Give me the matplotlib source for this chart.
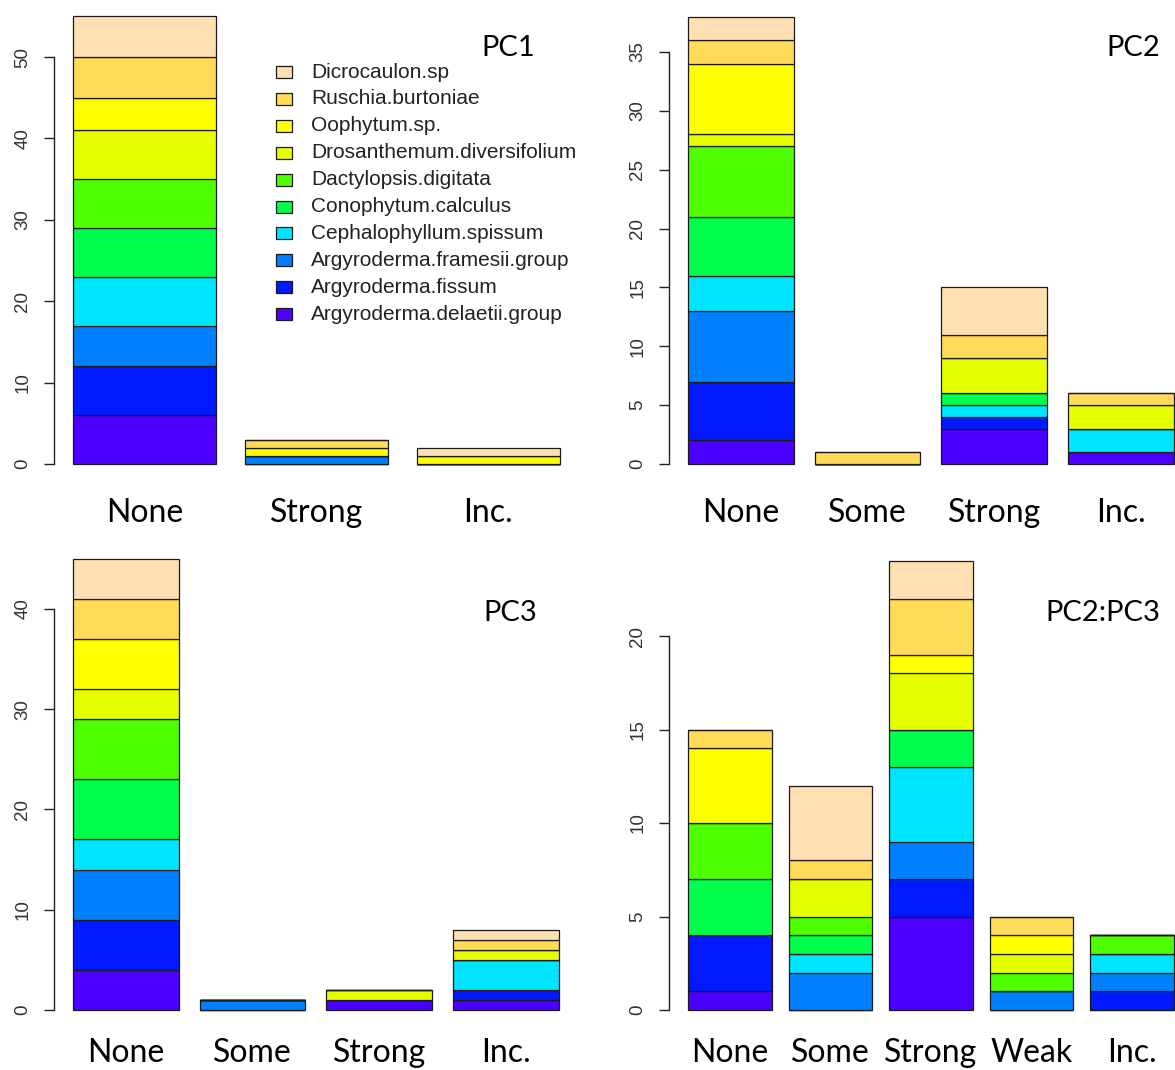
import matplotlib
matplotlib.use("Agg")
import matplotlib.pyplot as plt
from matplotlib.patches import Rectangle
import numpy as np

# ---------------- data ----------------
species = ["Argyroderma.delaetii.group", "Argyroderma.fissum", "Argyroderma.framesii.group",
           "Cephalophyllum.spissum", "Conophytum.calculus", "Dactylopsis.digitata",
           "Drosanthemum.diversifolium", "Oophytum.sp.", "Ruschia.burtoniae", "Dicrocaulon.sp"]
colors = ["#4C00FF", "#0019FF", "#0080FF", "#00E5FF", "#00FF4D",
          "#4DFF00", "#E6FF00", "#FFFF00", "#FFDB58", "#FFE0B3"]

pc1_groups = ["None", "Strong", "Inc."]
pc1_counts = [[6, 0, 0], [6, 0, 0], [5, 1, 0], [6, 0, 0], [6, 0, 0],
              [6, 0, 0], [6, 0, 0], [4, 1, 1], [5, 1, 0], [5, 0, 1]]
pc1_yticks = [0, 10, 20, 30, 40, 50]

pc2_groups = ["None", "Some", "Strong", "Inc."]
pc2_counts = [[2, 0, 3, 1], [5, 0, 1, 0], [6, 0, 0, 0], [3, 0, 1, 2], [5, 0, 1, 0],
              [6, 0, 0, 0], [1, 0, 3, 2], [6, 0, 0, 0], [2, 1, 2, 1], [2, 0, 4, 0]]
pc2_yticks = [0, 5, 10, 15, 20, 25, 30, 35]

pc3_groups = ["None", "Some", "Strong", "Inc."]
pc3_counts = [[4, 0, 1, 1], [5, 0, 0, 1], [5, 1, 0, 0], [3, 0, 0, 3], [6, 0, 0, 0],
              [6, 0, 0, 0], [3, 0, 1, 1], [5, 0, 0, 0], [4, 0, 0, 1], [4, 0, 0, 1]]
pc3_yticks = [0, 10, 20, 30, 40]

pc23_groups = ["None", "Some", "Strong", "Weak", "Inc."]
pc23_counts = [[1, 0, 5, 0, 0], [3, 0, 2, 0, 1], [0, 2, 2, 1, 1], [0, 1, 4, 0, 1],
               [3, 1, 2, 0, 0], [3, 1, 0, 1, 1], [0, 2, 3, 1, 0], [4, 0, 1, 1, 0],
               [1, 1, 3, 1, 0], [0, 4, 2, 0, 0]]
pc23_yticks = [0, 5, 10, 15, 20]

titles = ["PC1", "PC2", "PC3", "PC2:PC3"]

# ---------------- layout ----------------
W, H = 1175, 1070
fig = plt.figure(figsize=(W / 100, H / 100), dpi=100)

SANS = ["Liberation Sans", "DejaVu Sans"]
LABF = ["Lato", "DejaVu Sans"]

# (first bar left px, px per x unit, zero y px, px per y unit,
#  title right px, title baseline px, x label pad pt)
layout = [
    (73, 143.2, 464, 8.14, 535, 56, 11.5),
    (688, 105.6, 464, 11.77, 1160, 56, 11.5),
    (73, 105.6, 1010, 10.03, 537, 621, 7.5),
    (688, 83.75, 1010, 18.7, 1160, 621, 7.5),
]
panels = [
    (pc1_groups, pc1_counts, pc1_yticks),
    (pc2_groups, pc2_counts, pc2_yticks),
    (pc3_groups, pc3_counts, pc3_yticks),
    (pc23_groups, pc23_counts, pc23_yticks),
]

for (groups, counts, yticks), (bx0, xu, y0, yu, tx, ty, xpad), title in zip(panels, layout, titles):
    counts = np.array(counts, dtype=float)
    n = len(groups)
    lefts = 0.2 + 1.2 * np.arange(n)
    xr = (lefts[-1] + 1) - lefts[0]
    xlim = (lefts[0] - 0.04 * xr, lefts[-1] + 1 + 0.04 * xr)
    ymax = counts.sum(axis=0).max()
    ylim = (-0.04 * ymax, ymax * 1.04)
    left_px = bx0 + (xlim[0] - lefts[0]) * xu
    right_px = bx0 + (xlim[1] - lefts[0]) * xu
    bottom_px = y0 - ylim[0] * yu
    top_px = y0 - ylim[1] * yu
    ax = fig.add_axes([left_px / W, 1 - bottom_px / H,
                       (right_px - left_px) / W, (bottom_px - top_px) / H])
    ax.set_xlim(*xlim)
    ax.set_ylim(*ylim)
    bottom = np.zeros(n)
    for i, sp in enumerate(species):
        ax.bar(lefts, counts[i], width=1.0, bottom=bottom, align="edge",
               color=colors[i], edgecolor="#1a1a1a", linewidth=0.9, label=sp)
        bottom += counts[i]
    for s in ["top", "right", "bottom"]:
        ax.spines[s].set_visible(False)
    ax.spines["left"].set_bounds(yticks[0], yticks[-1])
    ax.spines["left"].set_linewidth(1.0)
    ax.spines["left"].set_color("#222222")
    ax.set_yticks(yticks)
    ax.set_yticklabels([str(t) for t in yticks], rotation=90, va="center",
                       family=SANS, fontsize=13.5, color="#333333")
    ax.tick_params(axis="y", length=7, width=1.0, color="#222222", pad=9)
    ax.set_xticks(lefts + 0.5)
    ax.set_xticklabels(groups, family=LABF, fontsize=23)
    ax.tick_params(axis="x", length=0, pad=xpad)
    ax.patch.set_alpha(0)
    ax.text(tx / W, 1 - ty / H, title, transform=fig.transFigure, ha="right",
            va="baseline", family=LABF, fontsize=21)

# legend (top-left panel)
ov = fig.add_axes([0, 0, 1, 1])
ov.set_xlim(0, W)
ov.set_ylim(H, 0)
ov.axis("off")
ov.patch.set_alpha(0)
for k, i in enumerate(range(len(species) - 1, -1, -1)):
    yc = 72 + k * 26.9
    ov.add_patch(Rectangle((276, yc - 6), 16, 12, facecolor=colors[i],
                           edgecolor="#1a1a1a", linewidth=0.9))
    ov.text(311, yc, species[i], va="center", ha="left", family=SANS,
            fontsize=15, color="#222222")

fig.savefig("out.png", dpi=100)
